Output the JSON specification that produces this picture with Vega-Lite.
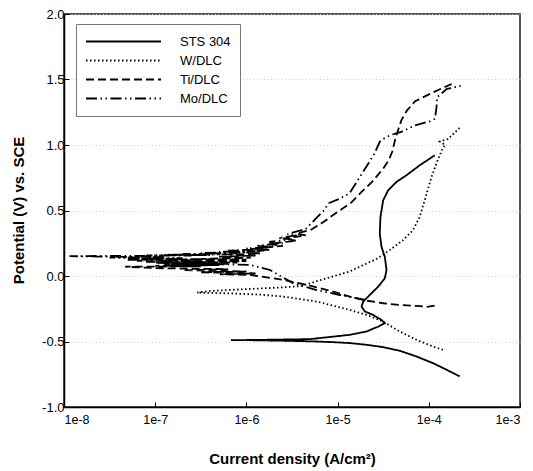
{
  "$schema": "https://vega.github.io/schema/vega-lite/v6.json",
  "autosize": {"type": "none"},
  "padding": {"left": 64, "top": 14, "right": 13, "bottom": 64},
  "width": 456,
  "height": 393,
  "background": "white",
  "config": {
    "font": "Liberation Sans",
    "view": {"stroke": "#555555", "strokeWidth": 2},
    "axis": {"labelFont": "Liberation Sans", "titleFont": "Liberation Sans", "labelColor": "#000", "titleColor": "#000", "domainColor": "#000", "tickColor": "#000", "domainWidth": 1.5, "tickWidth": 1}
  },
  "data": {"values": [
    {"s":"STS 304","i":1,"I":2.18e-4,"E":-0.766},
    {"s":"STS 304","i":2,"I":1.56e-4,"E":-0.715},
    {"s":"STS 304","i":3,"I":1.11e-4,"E":-0.665},
    {"s":"STS 304","i":4,"I":7.31e-5,"E":-0.614},
    {"s":"STS 304","i":5,"I":4.81e-5,"E":-0.571},
    {"s":"STS 304","i":6,"I":3.16e-5,"E":-0.543},
    {"s":"STS 304","i":7,"I":2.07e-5,"E":-0.525},
    {"s":"STS 304","i":8,"I":1.36e-5,"E":-0.512},
    {"s":"STS 304","i":9,"I":8.95e-6,"E":-0.505},
    {"s":"STS 304","i":10,"I":5.89e-6,"E":-0.5},
    {"s":"STS 304","i":11,"I":2.51e-6,"E":-0.494},
    {"s":"STS 304","i":12,"I":1.1e-6,"E":-0.49},
    {"s":"STS 304","i":13,"I":6.76e-7,"E":-0.49},
    {"s":"STS 304","i":14,"I":1.26e-6,"E":-0.488},
    {"s":"STS 304","i":15,"I":2.51e-6,"E":-0.485},
    {"s":"STS 304","i":16,"I":4.98e-6,"E":-0.482},
    {"s":"STS 304","i":17,"I":1.36e-5,"E":-0.449},
    {"s":"STS 304","i":18,"I":2.07e-5,"E":-0.424},
    {"s":"STS 304","i":19,"I":2.79e-5,"E":-0.386},
    {"s":"STS 304","i":20,"I":3.29e-5,"E":-0.36},
    {"s":"STS 304","i":21,"I":3.03e-5,"E":-0.335},
    {"s":"STS 304","i":22,"I":2.45e-5,"E":-0.297},
    {"s":"STS 304","i":23,"I":1.99e-5,"E":-0.271},
    {"s":"STS 304","i":24,"I":1.83e-5,"E":-0.233},
    {"s":"STS 304","i":25,"I":1.91e-5,"E":-0.195},
    {"s":"STS 304","i":26,"I":2.25e-5,"E":-0.145},
    {"s":"STS 304","i":27,"I":2.79e-5,"E":-0.081},
    {"s":"STS 304","i":28,"I":3.29e-5,"E":-0.018},
    {"s":"STS 304","i":29,"I":3.44e-5,"E":0.046},
    {"s":"STS 304","i":30,"I":3.29e-5,"E":0.147},
    {"s":"STS 304","i":31,"I":3.03e-5,"E":0.223},
    {"s":"STS 304","i":32,"I":2.9e-5,"E":0.325},
    {"s":"STS 304","i":33,"I":2.95e-5,"E":0.451},
    {"s":"STS 304","i":34,"I":3.16e-5,"E":0.578},
    {"s":"STS 304","i":35,"I":3.58e-5,"E":0.654},
    {"s":"STS 304","i":36,"I":4.42e-5,"E":0.718},
    {"s":"STS 304","i":37,"I":5.69e-5,"E":0.769},
    {"s":"STS 304","i":38,"I":7.94e-5,"E":0.845},
    {"s":"STS 304","i":39,"I":1.16e-4,"E":0.921},

    {"s":"W/DLC","i":1,"I":1.43e-4,"E":-0.563},
    {"s":"W/DLC","i":2,"I":1.11e-4,"E":-0.538},
    {"s":"W/DLC","i":3,"I":7.31e-5,"E":-0.487},
    {"s":"W/DLC","i":4,"I":4.81e-5,"E":-0.424},
    {"s":"W/DLC","i":5,"I":3.16e-5,"E":-0.348},
    {"s":"W/DLC","i":6,"I":2.07e-5,"E":-0.297},
    {"s":"W/DLC","i":7,"I":1.36e-5,"E":-0.259},
    {"s":"W/DLC","i":8,"I":5.89e-6,"E":-0.195},
    {"s":"W/DLC","i":9,"I":2.54e-6,"E":-0.157},
    {"s":"W/DLC","i":10,"I":1.41e-6,"E":-0.142},
    {"s":"W/DLC","i":11,"I":6.31e-7,"E":-0.132},
    {"s":"W/DLC","i":12,"I":2.88e-7,"E":-0.127},
    {"s":"W/DLC","i":13,"I":3.98e-7,"E":-0.114},
    {"s":"W/DLC","i":14,"I":9.33e-7,"E":-0.101},
    {"s":"W/DLC","i":15,"I":2.15e-6,"E":-0.089},
    {"s":"W/DLC","i":16,"I":3.89e-6,"E":-0.078},
    {"s":"W/DLC","i":17,"I":5.89e-6,"E":-0.04},
    {"s":"W/DLC","i":18,"I":1.36e-5,"E":0.035},
    {"s":"W/DLC","i":19,"I":2.67e-5,"E":0.13},
    {"s":"W/DLC","i":20,"I":3.73e-5,"E":0.198},
    {"s":"W/DLC","i":21,"I":5.22e-5,"E":0.274},
    {"s":"W/DLC","i":22,"I":6.71e-5,"E":0.35},
    {"s":"W/DLC","i":23,"I":7.94e-5,"E":0.451},
    {"s":"W/DLC","i":24,"I":9.02e-5,"E":0.578},
    {"s":"W/DLC","i":25,"I":1.07e-4,"E":0.756},
    {"s":"W/DLC","i":26,"I":1.21e-4,"E":0.858},
    {"s":"W/DLC","i":27,"I":1.41e-4,"E":0.97},
    {"s":"W/DLC","i":28,"I":1.51e-4,"E":1.0},
    {"s":"W/DLC","i":29,"I":1.32e-4,"E":1.027},
    {"s":"W/DLC","i":30,"I":1.62e-4,"E":1.045},
    {"s":"W/DLC","i":31,"I":2.22e-4,"E":1.136},

    {"s":"Ti/DLC","i":1,"I":1.16e-4,"E":-0.226},
    {"s":"Ti/DLC","i":2,"I":9.55e-5,"E":-0.235},
    {"s":"Ti/DLC","i":3,"I":7.31e-5,"E":-0.228},
    {"s":"Ti/DLC","i":4,"I":4.81e-5,"E":-0.221},
    {"s":"Ti/DLC","i":5,"I":3.16e-5,"E":-0.208},
    {"s":"Ti/DLC","i":6,"I":2.07e-5,"E":-0.188},
    {"s":"Ti/DLC","i":7,"I":1.36e-5,"E":-0.157},
    {"s":"Ti/DLC","i":8,"I":8.95e-6,"E":-0.119},
    {"s":"Ti/DLC","i":9,"I":5.89e-6,"E":-0.086},
    {"s":"Ti/DLC","i":10,"I":3.87e-6,"E":-0.056},
    {"s":"Ti/DLC","i":11,"I":2.54e-6,"E":-0.03},
    {"s":"Ti/DLC","i":12,"I":1.67e-6,"E":-0.01},
    {"s":"Ti/DLC","i":13,"I":1.1e-6,"E":0.008},
    {"s":"Ti/DLC","i":14,"I":5.13e-7,"E":0.013},
    {"s":"Ti/DLC","i":15,"I":1.26e-6,"E":0.02},
    {"s":"Ti/DLC","i":16,"I":3.16e-7,"E":0.028},
    {"s":"Ti/DLC","i":17,"I":1.0e-6,"E":0.035},
    {"s":"Ti/DLC","i":18,"I":2.0e-7,"E":0.045},
    {"s":"Ti/DLC","i":19,"I":6.31e-7,"E":0.052},
    {"s":"Ti/DLC","i":20,"I":1.0e-7,"E":0.06},
    {"s":"Ti/DLC","i":21,"I":4.68e-8,"E":0.071},
    {"s":"Ti/DLC","i":22,"I":3.16e-7,"E":0.074},
    {"s":"Ti/DLC","i":23,"I":1.0e-7,"E":0.078},
    {"s":"Ti/DLC","i":24,"I":5.01e-7,"E":0.083},
    {"s":"Ti/DLC","i":25,"I":1.26e-7,"E":0.088},
    {"s":"Ti/DLC","i":26,"I":6.31e-7,"E":0.093},
    {"s":"Ti/DLC","i":27,"I":1.58e-7,"E":0.098},
    {"s":"Ti/DLC","i":28,"I":7.94e-7,"E":0.103},
    {"s":"Ti/DLC","i":29,"I":2.0e-7,"E":0.108},
    {"s":"Ti/DLC","i":30,"I":1.0e-6,"E":0.113},
    {"s":"Ti/DLC","i":31,"I":2.51e-7,"E":0.118},
    {"s":"Ti/DLC","i":32,"I":1.0e-6,"E":0.125},
    {"s":"Ti/DLC","i":33,"I":3.16e-7,"E":0.13},
    {"s":"Ti/DLC","i":34,"I":1.12e-6,"E":0.14},
    {"s":"Ti/DLC","i":35,"I":5.01e-7,"E":0.148},
    {"s":"Ti/DLC","i":36,"I":1.26e-6,"E":0.156},
    {"s":"Ti/DLC","i":37,"I":6.31e-7,"E":0.163},
    {"s":"Ti/DLC","i":38,"I":1.41e-6,"E":0.172},
    {"s":"Ti/DLC","i":39,"I":1.0e-6,"E":0.18},
    {"s":"Ti/DLC","i":40,"I":1.78e-6,"E":0.2},
    {"s":"Ti/DLC","i":41,"I":1.26e-6,"E":0.21},
    {"s":"Ti/DLC","i":42,"I":2.51e-6,"E":0.23},
    {"s":"Ti/DLC","i":43,"I":1.78e-6,"E":0.245},
    {"s":"Ti/DLC","i":44,"I":3.55e-6,"E":0.27},
    {"s":"Ti/DLC","i":45,"I":2.51e-6,"E":0.285},
    {"s":"Ti/DLC","i":46,"I":4.47e-6,"E":0.31},
    {"s":"Ti/DLC","i":47,"I":3.55e-6,"E":0.325},
    {"s":"Ti/DLC","i":48,"I":5.01e-6,"E":0.35},
    {"s":"Ti/DLC","i":49,"I":6.61e-6,"E":0.4},
    {"s":"Ti/DLC","i":50,"I":8.32e-6,"E":0.45},
    {"s":"Ti/DLC","i":51,"I":1.05e-5,"E":0.5},
    {"s":"Ti/DLC","i":52,"I":1.41e-5,"E":0.56},
    {"s":"Ti/DLC","i":53,"I":1.82e-5,"E":0.64},
    {"s":"Ti/DLC","i":54,"I":2.4e-5,"E":0.72},
    {"s":"Ti/DLC","i":55,"I":3.16e-5,"E":0.82},
    {"s":"Ti/DLC","i":56,"I":3.63e-5,"E":0.883},
    {"s":"Ti/DLC","i":57,"I":3.98e-5,"E":0.95},
    {"s":"Ti/DLC","i":58,"I":4.27e-5,"E":1.04},
    {"s":"Ti/DLC","i":59,"I":4.47e-5,"E":1.086},
    {"s":"Ti/DLC","i":60,"I":5.01e-5,"E":1.19},
    {"s":"Ti/DLC","i":61,"I":5.75e-5,"E":1.263},
    {"s":"Ti/DLC","i":62,"I":7.08e-5,"E":1.334},
    {"s":"Ti/DLC","i":63,"I":1.12e-4,"E":1.403},
    {"s":"Ti/DLC","i":64,"I":1.78e-4,"E":1.466},

    {"s":"Mo/DLC","i":1,"I":2.0e-5,"E":-0.183},
    {"s":"Mo/DLC","i":2,"I":1.06e-5,"E":-0.145},
    {"s":"Mo/DLC","i":3,"I":5.89e-6,"E":-0.107},
    {"s":"Mo/DLC","i":4,"I":3.27e-6,"E":-0.056},
    {"s":"Mo/DLC","i":5,"I":1.82e-6,"E":0.046},
    {"s":"Mo/DLC","i":6,"I":1.1e-6,"E":0.084},
    {"s":"Mo/DLC","i":7,"I":6.31e-7,"E":0.088},
    {"s":"Mo/DLC","i":8,"I":1.58e-7,"E":0.092},
    {"s":"Mo/DLC","i":9,"I":5.01e-7,"E":0.096},
    {"s":"Mo/DLC","i":10,"I":1.0e-7,"E":0.1},
    {"s":"Mo/DLC","i":11,"I":3.98e-7,"E":0.104},
    {"s":"Mo/DLC","i":12,"I":7.94e-8,"E":0.108},
    {"s":"Mo/DLC","i":13,"I":3.16e-7,"E":0.112},
    {"s":"Mo/DLC","i":14,"I":6.31e-8,"E":0.116},
    {"s":"Mo/DLC","i":15,"I":2.51e-7,"E":0.12},
    {"s":"Mo/DLC","i":16,"I":5.01e-8,"E":0.124},
    {"s":"Mo/DLC","i":17,"I":3.16e-7,"E":0.128},
    {"s":"Mo/DLC","i":18,"I":5.01e-8,"E":0.132},
    {"s":"Mo/DLC","i":19,"I":2.0e-7,"E":0.136},
    {"s":"Mo/DLC","i":20,"I":3.16e-8,"E":0.14},
    {"s":"Mo/DLC","i":21,"I":1.26e-7,"E":0.144},
    {"s":"Mo/DLC","i":22,"I":2.51e-8,"E":0.148},
    {"s":"Mo/DLC","i":23,"I":1.15e-8,"E":0.152},
    {"s":"Mo/DLC","i":24,"I":6.31e-8,"E":0.154},
    {"s":"Mo/DLC","i":25,"I":2.51e-7,"E":0.156},
    {"s":"Mo/DLC","i":26,"I":7.94e-8,"E":0.158},
    {"s":"Mo/DLC","i":27,"I":3.98e-7,"E":0.16},
    {"s":"Mo/DLC","i":28,"I":1.26e-7,"E":0.162},
    {"s":"Mo/DLC","i":29,"I":6.31e-7,"E":0.165},
    {"s":"Mo/DLC","i":30,"I":2.0e-7,"E":0.168},
    {"s":"Mo/DLC","i":31,"I":7.94e-7,"E":0.172},
    {"s":"Mo/DLC","i":32,"I":3.16e-7,"E":0.176},
    {"s":"Mo/DLC","i":33,"I":1.0e-6,"E":0.18},
    {"s":"Mo/DLC","i":34,"I":5.01e-7,"E":0.185},
    {"s":"Mo/DLC","i":35,"I":1.26e-6,"E":0.19},
    {"s":"Mo/DLC","i":36,"I":6.31e-7,"E":0.195},
    {"s":"Mo/DLC","i":37,"I":1.58e-6,"E":0.205},
    {"s":"Mo/DLC","i":38,"I":1.0e-6,"E":0.21},
    {"s":"Mo/DLC","i":39,"I":2.0e-6,"E":0.225},
    {"s":"Mo/DLC","i":40,"I":1.26e-6,"E":0.23},
    {"s":"Mo/DLC","i":41,"I":2.51e-6,"E":0.25},
    {"s":"Mo/DLC","i":42,"I":1.78e-6,"E":0.26},
    {"s":"Mo/DLC","i":43,"I":3.16e-6,"E":0.28},
    {"s":"Mo/DLC","i":44,"I":2.24e-6,"E":0.29},
    {"s":"Mo/DLC","i":45,"I":3.55e-6,"E":0.31},
    {"s":"Mo/DLC","i":46,"I":2.82e-6,"E":0.32},
    {"s":"Mo/DLC","i":47,"I":4.47e-6,"E":0.36},
    {"s":"Mo/DLC","i":48,"I":5.62e-6,"E":0.43},
    {"s":"Mo/DLC","i":49,"I":7.08e-6,"E":0.5},
    {"s":"Mo/DLC","i":50,"I":7.94e-6,"E":0.555},
    {"s":"Mo/DLC","i":51,"I":1.05e-5,"E":0.59},
    {"s":"Mo/DLC","i":52,"I":1.35e-5,"E":0.63},
    {"s":"Mo/DLC","i":53,"I":1.66e-5,"E":0.73},
    {"s":"Mo/DLC","i":54,"I":2.09e-5,"E":0.84},
    {"s":"Mo/DLC","i":55,"I":2.51e-5,"E":0.93},
    {"s":"Mo/DLC","i":56,"I":2.95e-5,"E":1.035},
    {"s":"Mo/DLC","i":57,"I":3.8e-5,"E":1.076},
    {"s":"Mo/DLC","i":58,"I":4.9e-5,"E":1.098},
    {"s":"Mo/DLC","i":59,"I":7.08e-5,"E":1.15},
    {"s":"Mo/DLC","i":60,"I":1.02e-4,"E":1.18},
    {"s":"Mo/DLC","i":61,"I":1.17e-4,"E":1.2},
    {"s":"Mo/DLC","i":62,"I":1.22e-4,"E":1.3},
    {"s":"Mo/DLC","i":63,"I":1.23e-4,"E":1.365},
    {"s":"Mo/DLC","i":64,"I":1.58e-4,"E":1.428},
    {"s":"Mo/DLC","i":65,"I":2.24e-4,"E":1.451}
  ]},
  "mark": {"type": "line", "stroke": "black", "strokeWidth": 1.8, "clip": true},
  "encoding": {
    "x": {
      "field": "I", "type": "quantitative",
      "scale": {"type": "log", "domain": [1e-8, 1e-3], "nice": false},
      "axis": {
        "values": [1e-8, 1e-7, 1e-6, 1e-5, 1e-4, 1e-3],
        "labelExpr": "'1e-' + round(-log(datum.value)/LN10)",
        "tickSize": -5, "labelPadding": 11, "labelFontSize": 12.5,
        "grid": false,
        "title": "Current density (A/cm²)",
        "titleFontSize": 15, "titleFontWeight": "bold",
        "titleY": 51, "titleBaseline": "middle"
      }
    },
    "y": {
      "field": "E", "type": "quantitative",
      "scale": {"domain": [-1, 2], "nice": false},
      "axis": {
        "values": [-1, -0.5, 0, 0.5, 1, 1.5, 2],
        "labelExpr": "(datum.value < 0 ? '-' : '') + format(abs(datum.value), '.1f')",
        "tickSize": -5, "labelPadding": 5, "labelFontSize": 13,
        "grid": true, "gridDash": [1, 2.5], "gridColor": "#cccccc", "gridWidth": 1,
        "title": "Potential (V) vs. SCE",
        "titleFontSize": 15, "titleFontWeight": "bold",
        "titleX": -46, "titleY": 196, "titleAngle": -90, "titleBaseline": "middle", "titleAlign": "center"
      }
    },
    "strokeDash": {
      "field": "s", "type": "nominal",
      "scale": {
        "domain": ["STS 304", "W/DLC", "Ti/DLC", "Mo/DLC"],
        "range": [[1, 0], [1.5, 2.5], [8, 4], [11, 3.5, 1.5, 3.5, 1.5, 3.5]]
      },
      "legend": {
        "orient": "none", "legendX": 12, "legendY": 10, "title": null,
        "symbolType": "stroke", "symbolSize": 5625, "symbolStrokeWidth": 1.8, "symbolStrokeColor": "black",
        "clipHeight": 17, "rowPadding": 2, "labelOffset": 18,
        "labelFontSize": 13, "labelFont": "Liberation Sans", "labelColor": "#000",
        "padding": 9, "strokeColor": "#777777", "fillColor": "white"
      }
    },
    "order": {"field": "i", "type": "quantitative"}
  }
}
